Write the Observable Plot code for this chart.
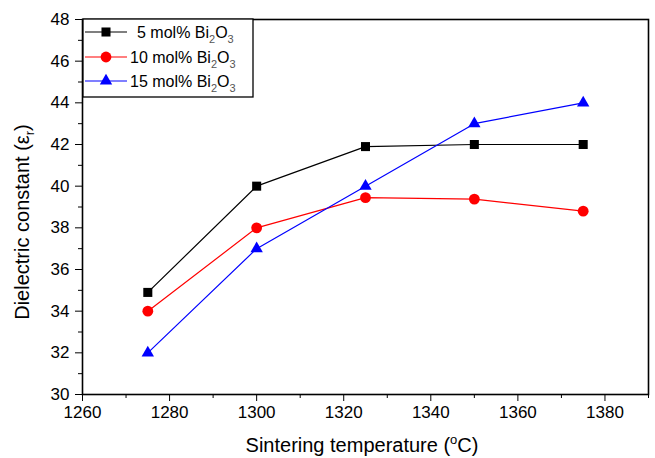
<!DOCTYPE html>
<html><head><meta charset="utf-8">
<script src="https://cdn.jsdelivr.net/npm/d3@7"></script>
<script src="https://cdn.jsdelivr.net/npm/@observablehq/plot@0.6"></script>
<style>
html,body{margin:0;padding:0;background:#fff;}
svg{font-family:"Liberation Sans",Arial,sans-serif;display:block;}
</style></head>
<body><div id="chart"></div>
<script>
const temperatures = [1275, 1300, 1325, 1350, 1375];
const bi5 = [34.9, 40.0, 41.9, 42.0, 42.0];
const bi10 = [34.0, 38.0, 39.45, 39.38, 38.8];
const bi15 = [32.0, 37.0, 40.0, 43.0, 44.0];
const seriesNames = ["5 mol%", "10 mol%", "15 mol%"];
const seriesColors = ["#000000", "#ff0000", "#0000ff"];
const seriesSymbols = ["square", "circle", "triangle"];
const xMajorTicks = [1260, 1280, 1300, 1320, 1340, 1360, 1380];
const xMinorTicks = [1270, 1290, 1310, 1330, 1350, 1370, 1390];
const yMajorTicks = [30, 32, 34, 36, 38, 40, 42, 44, 46, 48];
const yMinorTicks = [31, 33, 35, 37, 39, 41, 43, 45, 47];

const allSeries = [bi5, bi10, bi15];
const data = [];
allSeries.forEach((vals, si) => vals.forEach((v, i) => data.push({t: temperatures[i], v, s: seriesNames[si]})));

const symR = {square: 5.1, circle: 5.4, triangle: 4.6};

const marks = [
  Plot.axisX({ticks: xMajorTicks, tickSize: 7, tickPadding: 4, fontSize: 17, label: null, tickFormat: d => String(d)}),
  Plot.axisX({ticks: xMinorTicks, tickSize: 4, tickFormat: () => "", label: null}),
  Plot.axisY({ticks: yMajorTicks, tickSize: 7, tickPadding: 6, fontSize: 17, label: null}),
  Plot.axisY({ticks: yMinorTicks, tickSize: 4, tickFormat: () => "", label: null}),
  Plot.frame({stroke: "#000", strokeWidth: 1.6})
];
seriesNames.forEach((name, si) => {
  const d = data.filter(r => r.s === name);
  marks.push(Plot.line(d, {x: "t", y: "v", stroke: seriesColors[si], strokeWidth: 1.2}));
  marks.push(Plot.dot(d, {x: "t", y: "v", fill: seriesColors[si], stroke: "none", symbol: () => seriesSymbols[si], r: symR[seriesSymbols[si]]}));
});

const plot = Plot.plot({
  width: 655, height: 458,
  marginLeft: 82, marginRight: 7, marginTop: 19, marginBottom: 64,
  style: {fontFamily: "'Liberation Sans', Arial, sans-serif", color: "#000", background: "#fff"},
  x: {domain: [1260, 1390]},
  y: {domain: [30, 48]},
  marks
});
document.getElementById("chart").appendChild(plot);

const svg = d3.select(plot);
// Axis titles
const xt = svg.append("text").attr("x", 362).attr("y", 452).attr("text-anchor", "middle")
  .attr("font-size", 20).attr("fill", "#000");
xt.append("tspan").text("Sintering temperature (");
xt.append("tspan").attr("font-size", 13).attr("dy", -8).text("o");
xt.append("tspan").attr("dy", 8).text("C)");

const yt = svg.append("text").attr("transform", "translate(29,222) rotate(-90)").attr("text-anchor", "middle")
  .attr("font-size", 20).attr("fill", "#000");
yt.append("tspan").text("Dielectric constant (ε");
yt.append("tspan").attr("font-size", 13).attr("dy", 5).text("r");
yt.append("tspan").attr("dy", -5).text(")");

// Legend
const lg = svg.append("g");
lg.append("rect").attr("x", 83).attr("y", 19).attr("width", 170).attr("height", 78)
  .attr("fill", "#fff").attr("stroke", "#000").attr("stroke-width", 1.3);
const rowsY = [32, 57, 81];
const textX = [137, 130, 130];
seriesNames.forEach((name, si) => {
  const y = rowsY[si];
  lg.append("line").attr("x1", 85).attr("x2", 127).attr("y1", y).attr("y2", y)
    .attr("stroke", seriesColors[si]).attr("stroke-width", 1.2);
  lg.append("path").attr("transform", `translate(106,${y})`)
    .attr("d", d3.symbol(seriesSymbols[si] === "square" ? d3.symbolSquare : seriesSymbols[si] === "circle" ? d3.symbolCircle : d3.symbolTriangle,
      Math.PI * symR[seriesSymbols[si]] ** 2)())
    .attr("fill", seriesColors[si]);
  const t = lg.append("text").attr("x", textX[si]).attr("y", y + 6).attr("font-size", 16)
    .attr("text-anchor", "start").attr("fill", "#000");
  t.append("tspan").text(name + " Bi");
  t.append("tspan").attr("font-size", 11).attr("dy", 5).attr("fill", "#555").text("2");
  t.append("tspan").attr("dy", -5).text("O");
  t.append("tspan").attr("font-size", 11).attr("dy", 5).attr("fill", "#555").text("3");
});
</script></body></html>
